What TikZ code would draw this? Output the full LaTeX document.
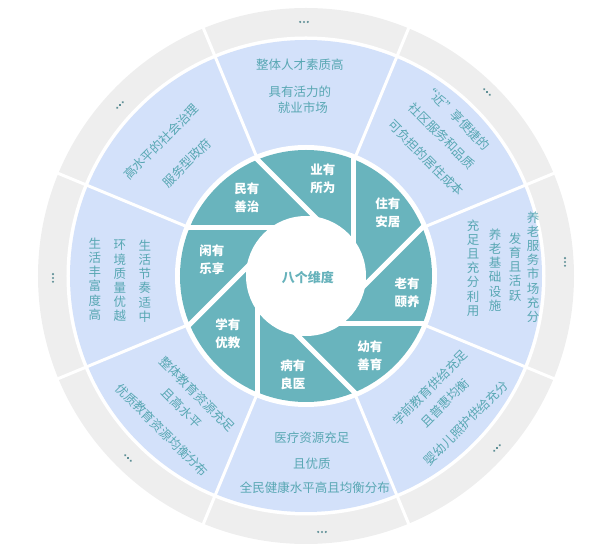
\documentclass[tikz,border=0pt]{standalone}
\usepackage{fontspec}
\newfontfamily\cjk{Noto Sans CJK SC}
\definecolor{ringgray}{HTML}{EEEEEE}
\definecolor{ringblue}{HTML}{D3E1FA}
\definecolor{segteal}{HTML}{69B4BD}
\definecolor{txtc}{HTML}{58A7B3}
\definecolor{ctrc}{HTML}{66B2BB}
\definecolor{dotc}{HTML}{5E8F96}
\tikzset{
  lab/.style={text=white, font=\cjk\bfseries\fontsize{12.5}{18}\selectfont, align=center, inner sep=0pt},
  ctr/.style={text=ctrc, font=\cjk\bfseries\fontsize{13}{15}\selectfont, inner sep=0pt},
  otxt/.style={text=txtc, font=\cjk\fontsize{12.5}{14}\selectfont, inner sep=0pt},
  vtxt/.style={text=txtc, font=\cjk\fontsize{12.5}{14.2}\selectfont, align=center, inner sep=0pt},
  bsep/.style={white, line width=3pt},
  tsep/.style={white, line width=5pt}
}
\begin{document}
\begin{tikzpicture}[x=1pt,y=1pt]
\useasboundingbox (-306,-277) rectangle (294,276);
% rings
\fill[ringgray] (0,0) circle (268);
\fill[white] (0,0) circle (239.5);
\fill[ringblue] (0,0) circle (236);
\fill[white] (0,0) circle (131);
\fill[segteal] (0,0) circle (126);
% radial separators of the outer rings
\foreach \a in {22.5,67.5,...,337.5} \draw[bsep] (\a:129) -- (\a:272);
% aperture separators of the teal ring
\foreach \b in {0,45,...,315} \draw[tsep] (\b:48) -- ++(\b+90:118);
\fill[white] (0,0) circle (60);
% centre
\node[ctr] (centre) at (2,-2) {八个维度};
% teal labels
\node[lab] (ye)   at (17,97)   {业有\\所为};
\node[lab] (zhu)  at (82,63)   {住有\\安居};
\node[lab] (lao)  at (101,-17) {老有\\颐养};
\node[lab] (you)  at (64,-80)  {幼有\\善育};
\node[lab] (bing) at (-13,-99) {病有\\良医};
\node[lab] (xue)  at (-78,-58) {学有\\优教};
\node[lab] (xian) at (-94,16)  {闲有\\乐享};
\node[lab] (min)  at (-59,78)  {民有\\善治};
% top sector
\node[otxt] (t1) at (-6,211)  {整体人才素质高};
\node[otxt] (t2) at (-6,184)  {具有活力的};
\node[otxt] (t3) at (-3,168)  {就业市场};
% upper right sector
\node[otxt, rotate=-45] (r1) at (151,159) {“近”享便捷的};
\node[otxt, rotate=-45] (r2) at (136,140) {社区服务和品质};
\node[otxt, rotate=-45] (r3) at (120,118) {可负担的居住成本};
% right sector
\node[vtxt] (v1) at (227,9) {养\\老\\服\\务\\市\\场\\充\\分};
\node[vtxt] (v2) at (209,9) {发\\育\\且\\活\\跃};
\node[vtxt] (v3) at (189,6) {养\\老\\基\\础\\设\\施};
\node[vtxt] (v4) at (167,8) {充\\足\\且\\充\\分\\利\\用};
% lower right sector
\node[otxt, rotate=45] (lr1) at (124,-112) {学前教育供给充足};
\node[otxt, rotate=45] (lr2) at (139,-127) {且普惠均衡};
\node[otxt, rotate=45] (lr3) at (160,-147) {婴幼儿照护供给充分};
% bottom sector
\node[otxt] (b1) at (6,-162) {医疗资源充足};
\node[otxt] (b2) at (6,-188) {且优质};
\node[otxt] (b3) at (9,-212) {全民健康水平高且均衡分布};
% lower left sector
\node[otxt, rotate=-45] (ll1) at (-109,-118) {整体教育资源充足};
\node[otxt, rotate=-45] (ll2) at (-124,-132) {且高水平};
\node[otxt, rotate=-45] (ll3) at (-144,-154) {优质教育资源均衡分布};
% left sector
\node[vtxt] (l1) at (-211,-3) {生\\活\\丰\\富\\度\\高};
\node[vtxt] (l2) at (-186,-5) {环\\境\\质\\量\\优\\越};
\node[vtxt] (l3) at (-161,-5) {生\\活\\节\\奏\\适\\中};
% upper left sector
\node[otxt, rotate=45] (u1) at (-145,134) {高水平的社会治理};
\node[otxt, rotate=45] (u2) at (-119,113) {服务型政府};
% dots in the grey ring
\foreach \px/\py/\rot in {-2/254/0, 181/184/-45, 259/14/90, 191/-172/45, 16/-256/0, -178/-182/-45, -253/-2/90, -186/171/45}{
  \begin{scope}[shift={(\px,\py)}, rotate=\rot]
    \fill[dotc] (-3.8,0) circle (1.2) (0,0) circle (1.2) (3.8,0) circle (1.2);
  \end{scope}
}
\end{tikzpicture}
\end{document}
